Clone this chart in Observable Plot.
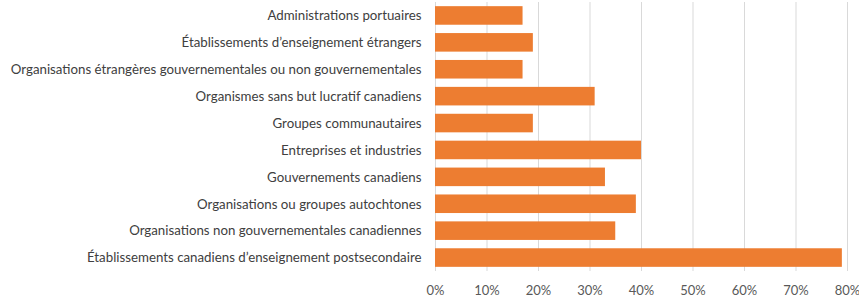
<!DOCTYPE html>
<html>
<head>
<meta charset="utf-8">
<script src="https://cdn.jsdelivr.net/npm/d3@7"></script>
<script src="https://cdn.jsdelivr.net/npm/@observablehq/plot@0.6"></script>
<style>
  html, body { margin: 0; padding: 0; background: #fff; }
  #chart svg { display: block; }
</style>
</head>
<body>
<div id="chart"></div>
<script>
const categories = [
  "Administrations portuaires",
  "Établissements d’enseignement étrangers",
  "Organisations étrangères gouvernementales ou non gouvernementales",
  "Organismes sans but lucratif canadiens",
  "Groupes communautaires",
  "Entreprises et industries",
  "Gouvernements canadiens",
  "Organisations ou groupes autochtones",
  "Organisations non gouvernementales canadiennes",
  "Établissements canadiens d’enseignement postsecondaire"
];
const values = [0.17, 0.19, 0.17, 0.31, 0.19, 0.40, 0.33, 0.39, 0.35, 0.79];
const xTicks = [0, 0.1, 0.2, 0.3, 0.4, 0.5, 0.6, 0.7, 0.8];

const data = categories.map((c, i) => ({cat: c, value: values[i]}));
const fmt = d => Math.round(d * 100) + "%";
const font = "Lato, 'Open Sans', sans-serif";

// choose a font size so the longest label spans about the same width as in the reference
const ctx = document.createElement("canvas").getContext("2d");
ctx.font = "100px " + font;
const longest = d3.max(categories, c => ctx.measureText(c).width);
const fontSize = Math.min(15, Math.max(11, 411 / longest * 100));

const chart = Plot.plot({
  width: 859,
  height: 298,
  marginLeft: 435,
  marginRight: 12,
  marginTop: 2,
  marginBottom: 27,
  style: {fontFamily: font, fontSize: fontSize + "px", color: "#404040", background: "#fff"},
  x: {domain: [0, 0.8]},
  y: {domain: categories, paddingInner: 0.31, paddingOuter: 0.155, round: false},
  marks: [
    Plot.gridX(xTicks, {stroke: "#d9d9d9", strokeOpacity: 1, strokeWidth: 1}),
    Plot.barX(data, {x: "value", y: "cat", fill: "#ED7D31"}),
    Plot.axisX({ticks: xTicks, tickFormat: fmt, tickSize: 0, tickPadding: 14, label: null, color: "#595959", fontSize: 13}),
    Plot.axisY({tickSize: 0, tickPadding: 14, label: null, color: "#404040"})
  ]
});
document.getElementById("chart").appendChild(chart);
</script>
</body>
</html>
